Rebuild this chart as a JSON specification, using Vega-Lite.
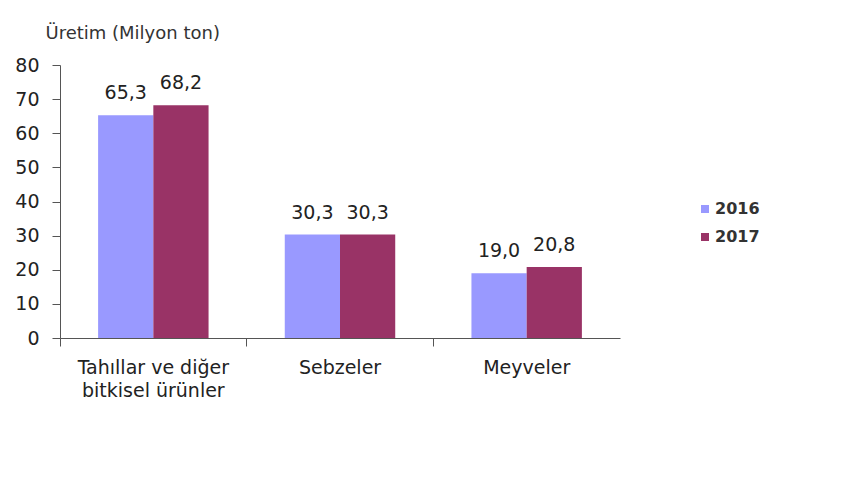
{
  "$schema": "https://vega.github.io/schema/vega-lite/v6.json",
  "autosize": "none",
  "width": 560,
  "height": 273,
  "padding": {"left": 60, "top": 65, "right": 240, "bottom": 142},
  "background": "white",
  "config": {
    "font": "DejaVu Sans",
    "view": {"stroke": null},
    "locale": {"number": {"decimal": ",", "thousands": ".", "grouping": [3], "currency": ["", " TL"]}}
  },
  "data": {
    "values": [
      {"urun": "Tahıllar ve diğer bitkisel ürünler", "yil": "2016", "deger": 65.3},
      {"urun": "Tahıllar ve diğer bitkisel ürünler", "yil": "2017", "deger": 68.2},
      {"urun": "Sebzeler", "yil": "2016", "deger": 30.3},
      {"urun": "Sebzeler", "yil": "2017", "deger": 30.3},
      {"urun": "Meyveler", "yil": "2016", "deger": 19.0},
      {"urun": "Meyveler", "yil": "2017", "deger": 20.8}
    ]
  },
  "encoding": {
    "x": {
      "field": "urun", "type": "nominal", "sort": null,
      "scale": {"paddingInner": 0, "paddingOuter": 0},
      "axis": {
        "title": null, "labelAngle": 0, "labelFontSize": 19, "labelColor": "#222",
        "labelExpr": "datum.label == 'Tahıllar ve diğer bitkisel ürünler' ? ['Tahıllar ve diğer', 'bitkisel ürünler'] : datum.label",
        "labelLineHeight": 23, "labelPadding": 12,
        "domainColor": "#555", "tickColor": "#555", "tickSize": 8, "bandPosition": 0
      }
    },
    "xOffset": {"field": "yil", "type": "nominal", "scale": {"paddingOuter": 0.69, "paddingInner": 0}},
    "y": {
      "field": "deger", "type": "quantitative",
      "scale": {"domain": [0, 80], "nice": false},
      "axis": {
        "values": [0, 10, 20, 30, 40, 50, 60, 70, 80], "grid": false,
        "title": "Üretim (Milyon ton)", "titleAngle": 0, "titleAlign": "left", "titleBaseline": "middle",
        "titleX": -15, "titleY": -32, "titleFontSize": 18, "titleFontWeight": "normal", "titleColor": "#333",
        "labelFontSize": 19, "labelColor": "#222", "labelPadding": 13,
        "domainColor": "#555", "tickColor": "#555", "tickSize": 8
      }
    }
  },
  "layer": [
    {
      "mark": {"type": "bar"},
      "encoding": {
        "color": {
          "field": "yil", "type": "nominal",
          "scale": {"domain": ["2016", "2017"], "range": ["#9999FF", "#993366"]},
          "legend": {
            "title": null, "orient": "none", "legendX": 637, "legendY": 136,
            "symbolType": "square", "symbolSize": 64, "labelFontSize": 16, "labelFontWeight": "bold",
            "labelColor": "#333", "rowPadding": 12, "labelOffset": 2
          }
        }
      }
    },
    {
      "mark": {"type": "text", "baseline": "alphabetic", "dy": -16, "fontSize": 19, "color": "#222"},
      "encoding": {
        "text": {"field": "deger", "type": "quantitative", "format": ".1f"}
      }
    }
  ]
}
